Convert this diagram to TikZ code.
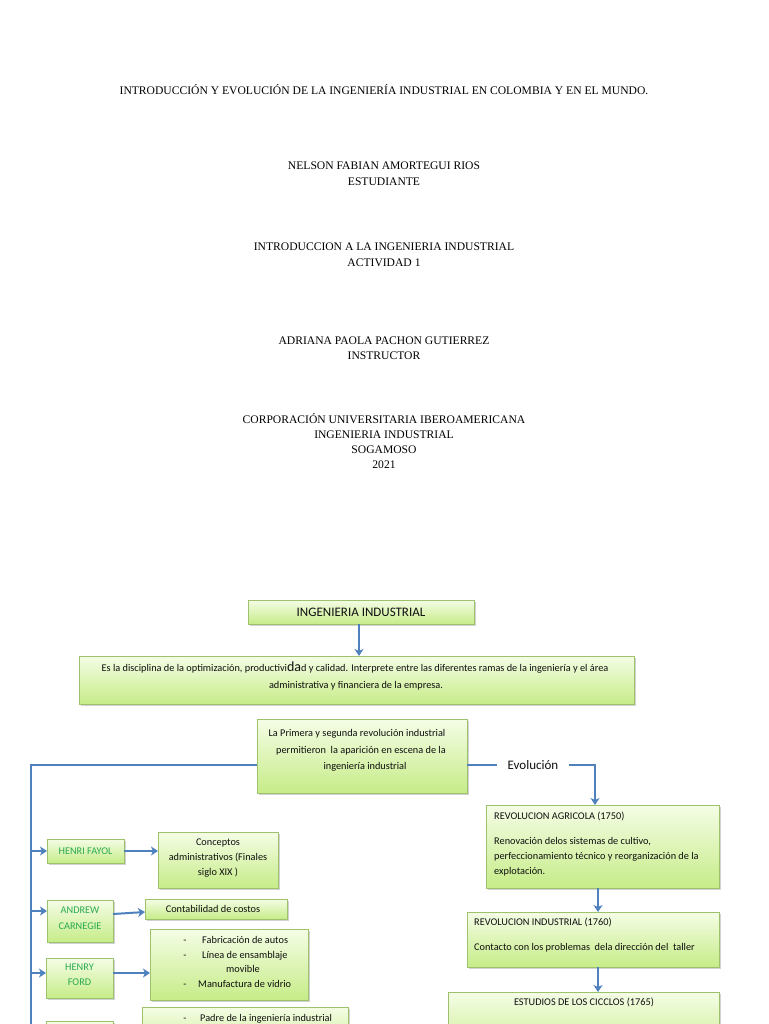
\documentclass[tikz,border=0pt]{standalone}
\usepackage{fontspec}
\setmainfont{Liberation Serif}
\newfontfamily\carl{Carlito}
\usetikzlibrary{arrows.meta,shadows}
\definecolor{lineblue}{RGB}{79,129,189}
\definecolor{boxtop}{RGB}{245,253,230}
\definecolor{boxbot}{RGB}{198,236,136}
\definecolor{boxedge}{RGB}{158,194,108}
\definecolor{namegreen}{RGB}{40,170,80}
\definecolor{txtgray}{RGB}{15,15,15}
\tikzset{
  gbox/.style={draw=boxedge, line width=0.6pt, top color=boxtop, bottom color=boxbot,
    drop shadow={opacity=0.35, shadow xshift=1.5pt, shadow yshift=-2pt},
    inner sep=0pt, outer sep=0pt},
  conn/.style={draw=lineblue, line width=2pt},
  arr/.style={conn, -{Stealth[length=7pt,width=9pt,inset=2pt]}},
  ttl/.style={font=\fontsize{11.6}{16}\selectfont, anchor=base, inner sep=0pt, text=black},
  btxt/.style={font=\carl\fontsize{10.3}{15}\selectfont, text=txtgray, anchor=base, inner sep=0pt},
  bleft/.style={btxt, anchor=base west},
  ntxt/.style={font=\carl\fontsize{10.3}{15}\selectfont, text=namegreen, anchor=base, inner sep=0pt},
  big/.style={font=\carl\fontsize{13}{16}\selectfont, text=txtgray, inner sep=0pt},
}
\begin{document}
\begin{tikzpicture}[x=1pt,y=1pt]
\useasboundingbox (0,0) rectangle (768,-1024);
\clip (0,0) rectangle (768,-1024);
\fill[white] (0,0) rectangle (768,-1024);

% ---- cover page text ----
\node[ttl] (t1) at (384,-95) {INTRODUCCIÓN Y EVOLUCIÓN DE LA INGENIERÍA INDUSTRIAL EN COLOMBIA Y EN EL MUNDO.};
\node[ttl] (t2a) at (384,-170) {NELSON FABIAN AMORTEGUI RIOS};
\node[ttl] (t2b) at (384,-186) {ESTUDIANTE};
\node[ttl] (t3a) at (384,-250) {INTRODUCCION A LA INGENIERIA INDUSTRIAL};
\node[ttl] (t3b) at (384,-266) {ACTIVIDAD 1};
\node[ttl] (t4a) at (384,-344) {ADRIANA PAOLA PACHON GUTIERREZ};
\node[ttl] (t4b) at (384,-359) {INSTRUCTOR};
\node[ttl] (t5a) at (384,-423) {CORPORACIÓN UNIVERSITARIA IBEROAMERICANA};
\node[ttl] (t5b) at (384,-438) {INGENIERIA INDUSTRIAL};
\node[ttl] (t5c) at (384,-453) {SOGAMOSO};
\node[ttl] (t5d) at (384,-468) {2021};

% ---- boxes ----
\node[gbox, minimum width=226pt, minimum height=24pt] (ing) at (361,-612) {};
\node[gbox, minimum width=555pt, minimum height=48pt] (def) at (356.5,-680) {};
\node[gbox, minimum width=210pt, minimum height=74pt] (rev) at (362,-756) {};
\node[gbox, minimum width=233pt, minimum height=83pt] (agri) at (602.5,-846.5) {};
\node[gbox, minimum width=252pt, minimum height=55pt] (indus) at (593,-939.5) {};
\node[gbox, minimum width=271pt, minimum height=68pt] (est) at (583.5,-1026) {};

\node[gbox, minimum width=77pt, minimum height=24pt] (fayol) at (85.5,-851) {};
\node[gbox, minimum width=66pt, minimum height=42pt] (carnegie) at (80,-921) {};
\node[gbox, minimum width=67pt, minimum height=40pt] (ford) at (79.5,-978) {};
\node[gbox, minimum width=67pt, minimum height=40pt] (taylor) at (79.5,-1041) {};

\node[gbox, minimum width=120pt, minimum height=56pt] (conc) at (218,-860) {};
\node[gbox, minimum width=142pt, minimum height=20pt] (conta) at (216,-909) {};
\node[gbox, minimum width=158pt, minimum height=71pt] (fordbox) at (229,-964.5) {};
\node[gbox, minimum width=206pt, minimum height=50pt] (padre) at (245,-1032) {};

% ---- texts in boxes ----
\node[big, anchor=base] (ingt) at (361,-616) {INGENIERIA INDUSTRIAL};
\node[btxt] (def1) at (355,-671.5) {Es la disciplina de la optimización, productivi{\fontsize{14}{15}\selectfont da}d y calidad. Interprete entre las diferentes ramas de la ingeniería y el área};
\node[btxt] (def2) at (356,-688.5) {administrativa y financiera de la empresa.};
\node[btxt] (rev1) at (357,-736.5) {La Primera y segunda revolución industrial};
\node[btxt] (rev2) at (361,-753.5) {permitieron\ \ la aparición en escena de la};
\node[btxt] (rev3) at (365,-769.5) {ingeniería industrial};
\node[big, inner xsep=10pt] (evo) at (533,-765) {Evolución};

\node[bleft] (agri1) at (494,-819.5) {REVOLUCION AGRICOLA (1750)};
\node[bleft] (agri2) at (494,-844.5) {Renovación delos sistemas de cultivo,};
\node[bleft] (agri3) at (494,-859.5) {perfeccionamiento técnico y reorganización de la};
\node[bleft] (agri4) at (494,-874.5) {explotación.};
\node[bleft] (ind1) at (474,-925.5) {REVOLUCION INDUSTRIAL (1760)};
\node[bleft] (ind2) at (474,-950.5) {Contacto con los problemas\ \ dela dirección del\ \ taller};
\node[btxt] (est1) at (584,-1005.5) {ESTUDIOS DE LOS CICCLOS (1765)};

\node[ntxt] (fayolt) at (85.5,-854.5) {HENRI FAYOL};
\node[ntxt] (carn1) at (80,-913.5) {ANDREW};
\node[ntxt] (carn2) at (80,-929) {CARNEGIE};
\node[ntxt] (ford1) at (79.5,-970.5) {HENRY};
\node[ntxt] (ford2) at (79.5,-985.5) {FORD};

\node[btxt] (conc1) at (218,-845.5) {Conceptos};
\node[btxt] (conc2) at (218,-860.5) {administrativos (Finales};
\node[btxt] (conc3) at (218,-875.5) {siglo XIX )};
\node[btxt] (contat) at (213,-912.5) {Contabilidad de costos};

\node[btxt] (fd1) at (185,-943.5) {-};
\node[bleft] (fb1) at (202,-943.5) {Fabricación de autos};
\node[btxt] (fd2) at (185,-958.5) {-};
\node[bleft] (fb2) at (202,-958.5) {Línea de ensamblaje};
\node[btxt] (fb3) at (243,-972.5) {movible};
\node[btxt] (fd4) at (185,-987.5) {-};
\node[bleft] (fb4) at (198,-987.5) {Manufactura de vidrio};
\node[btxt] (pd1) at (185,-1021.5) {-};
\node[bleft] (pb1) at (200,-1021.5) {Padre de la ingeniería industrial};

% ---- connectors ----
\coordinate (j0) at (31,-765);
\coordinate (jbot) at (31,-1040);
\coordinate (ec) at (595,-765);
\coordinate (vx) at (598,0);

\draw[arr] (ing.south -| 359,0) -- (def.north -| 359,0);
\draw[conn] (rev.west |- j0) -- (j0) -- (jbot);
\draw[arr] (j0 |- fayol.west) -- (fayol.west);
\draw[arr] ([yshift=10pt]carnegie.west -| j0) -- ([yshift=10pt]carnegie.west);
\draw[arr] ([yshift=5pt]ford.west -| j0) -- ([yshift=5pt]ford.west);
\draw[arr] (fayol.east) -- (fayol.east -| conc.west);
\draw[arr] ([yshift=7pt]carnegie.east) -- ([yshift=-3pt]conta.west);
\draw[arr] ([yshift=5pt]ford.east) -- ([yshift=5pt]ford.east -| fordbox.west);

\draw[conn] (rev.east |- evo) -- (evo.west);
\draw[arr] (evo.east) -- (ec) -- (ec |- agri.north);
\draw[arr] (agri.south -| vx) -- (indus.north -| vx);
\draw[arr] (indus.south -| vx) -- (est.north -| vx);
\end{tikzpicture}
\end{document}
